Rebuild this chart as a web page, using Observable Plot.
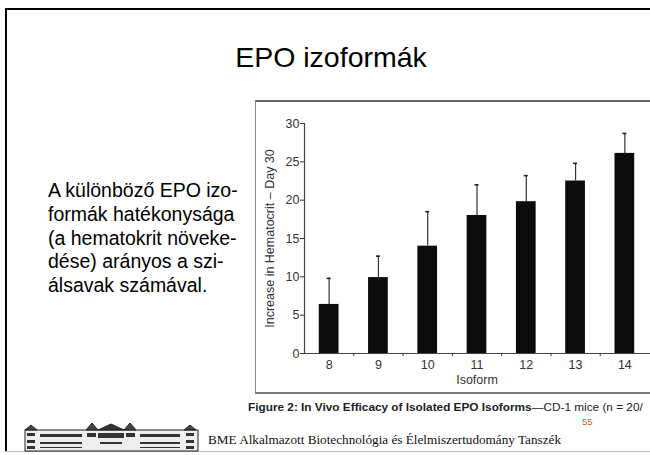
<!DOCTYPE html>
<html><head><meta charset="utf-8">
<script src="https://cdn.jsdelivr.net/npm/d3@7"></script>
<script src="https://cdn.jsdelivr.net/npm/@observablehq/plot@0.6"></script>
<style>
html,body{margin:0;padding:0;}
body{width:650px;height:455px;position:relative;overflow:hidden;background:#fff;font-family:"Liberation Sans",Arial,sans-serif;color:#000;}
.slide-top{position:absolute;left:5px;top:8px;width:650px;height:2px;background:#000;}
.slide-left{position:absolute;left:5px;top:8px;width:2px;height:444px;background:#000;}
.slide-bottom{position:absolute;left:5px;top:451px;width:650px;height:1px;background:#bbb;}
h1{position:absolute;left:0;top:40px;width:662px;margin:0;text-align:center;font-weight:normal;font-size:28.5px;line-height:34px;}
.body{position:absolute;left:48px;top:179px;font-size:19.5px;line-height:23.8px;}
.figbox{position:absolute;left:255px;top:100px;width:400px;height:290px;border-top:2px solid #666;border-left:1.5px solid #888;border-bottom:2px solid #777;}
#chart{position:absolute;left:255px;top:100px;}
.caption{position:absolute;left:248px;top:400px;font-size:11.8px;white-space:nowrap;color:#222;}
.caption b{font-weight:bold;}
.pnum{position:absolute;left:582px;top:416px;font-size:9.5px;color:#d9512c;}
.dept{position:absolute;left:208px;top:432px;font-family:"Liberation Serif","Times New Roman",serif;font-size:13.2px;white-space:nowrap;color:#111;}
#logo{position:absolute;left:24px;top:420px;}
</style></head>
<body>
<div class="slide-top"></div><div class="slide-left"></div><div class="slide-bottom"></div>
<h1>EPO izoformák</h1>
<div class="body">A különböző EPO izo-<br>formák hatékonysága<br>(a hematokrit növeke-<br>dése) arányos a szi-<br>álsavak számával.</div>
<div class="figbox"></div>
<div id="chart"></div>
<div class="caption"><b>Figure 2: In Vivo Efficacy of Isolated EPO Isoforms</b>—CD-1 mice (n = 20/</div>
<div class="pnum">55</div>
<svg id="logo" width="175" height="32" viewBox="0 0 175 32">
  <g fill="none" stroke="#222" stroke-width="1">
    <rect x="1" y="10" width="173" height="21" fill="#eee"/>
    <polygon points="1,10 7,5 13,10" fill="#444"/>
    <polygon points="160,10 166,5 172,10" fill="#444"/>
    <polygon points="62,10 68,3 74,10" fill="#444"/>
    <polygon points="100,10 106,3 112,10" fill="#444"/>
    <polygon points="74,10 87,4 100,10" fill="#333"/>
  </g>
  <g fill="#333">
    <rect x="3" y="13" width="8" height="3"/><rect x="3" y="20" width="8" height="3"/><rect x="3" y="26" width="8" height="3"/>
    <rect x="16" y="14" width="42" height="3"/><rect x="16" y="22" width="42" height="2"/><rect x="16" y="27" width="42" height="1"/>
    <rect x="116" y="14" width="40" height="3"/><rect x="116" y="22" width="40" height="2"/><rect x="116" y="27" width="40" height="1"/>
    <rect x="162" y="13" width="8" height="3"/><rect x="162" y="20" width="8" height="3"/><rect x="162" y="26" width="8" height="3"/>
    <rect x="74" y="13" width="26" height="5"/><rect x="76" y="22" width="22" height="2"/>
    <rect x="63" y="13" width="9" height="4"/><rect x="102" y="13" width="9" height="4"/>
  </g>
</svg>
<div class="dept">BME Alkalmazott Biotechnológia és Élelmiszertudomány Tanszék</div>
<script>
const isoforms = [8, 9, 10, 11, 12, 13, 14];
const meanIncrease = [6.4, 9.9, 14.0, 18.0, 19.8, 22.5, 26.1];
const upperError = [9.8, 12.7, 18.5, 22.0, 23.2, 24.8, 28.7];
const yTicks = [0, 5, 10, 15, 20, 25, 30];
const xTickMarks = [8.5, 9.5, 10.5, 11.5, 12.5, 13.5];

const data = isoforms.map((iso, i) => ({iso, mean: meanIncrease[i], upper: upperError[i]}));
const halfBar = 0.2, halfCap = 0.04;

const chart = Plot.plot({
  width: 395, height: 292,
  marginLeft: 49, marginRight: 1, marginTop: 23, marginBottom: 39,
  x: {domain: [7.5, 14.5]},
  y: {domain: [0, 30]},
  style: {fontFamily: "Liberation Sans, Arial, sans-serif", fontSize: "12.5px", color: "#333", background: "transparent", overflow: "visible"},
  marks: [
    Plot.rectY(data, {x1: d => d.iso - halfBar, x2: d => d.iso + halfBar, y: "mean", fill: "#0b0b0b"}),
    Plot.ruleX(data, {x: "iso", y1: "mean", y2: "upper", stroke: "#333", strokeWidth: 1.2}),
    Plot.ruleY(data, {y: "upper", x1: d => d.iso - halfCap, x2: d => d.iso + halfCap, stroke: "#222", strokeWidth: 1.6}),
    Plot.frame({anchor: "left", stroke: "#444", strokeWidth: 1.2}),
    Plot.frame({anchor: "bottom", stroke: "#444", strokeWidth: 1.2}),
    Plot.axisY({ticks: yTicks, tickSize: 4, tickPadding: 1, tickFormat: d => String(d), label: "Increase in Hematocrit – Day 30", labelAnchor: "center", labelOffset: 39, labelArrow: "none"}),
    Plot.axisX({ticks: isoforms, tickSize: 0, tickPadding: 7, tickFormat: d => String(d), label: "Isoform", labelAnchor: "center", labelOffset: 30, labelArrow: "none"}),
    Plot.axisX({ticks: xTickMarks, tickSize: 3, tickFormat: () => "", label: null})
  ]
});
document.getElementById("chart").appendChild(chart);
</script>
</body></html>
